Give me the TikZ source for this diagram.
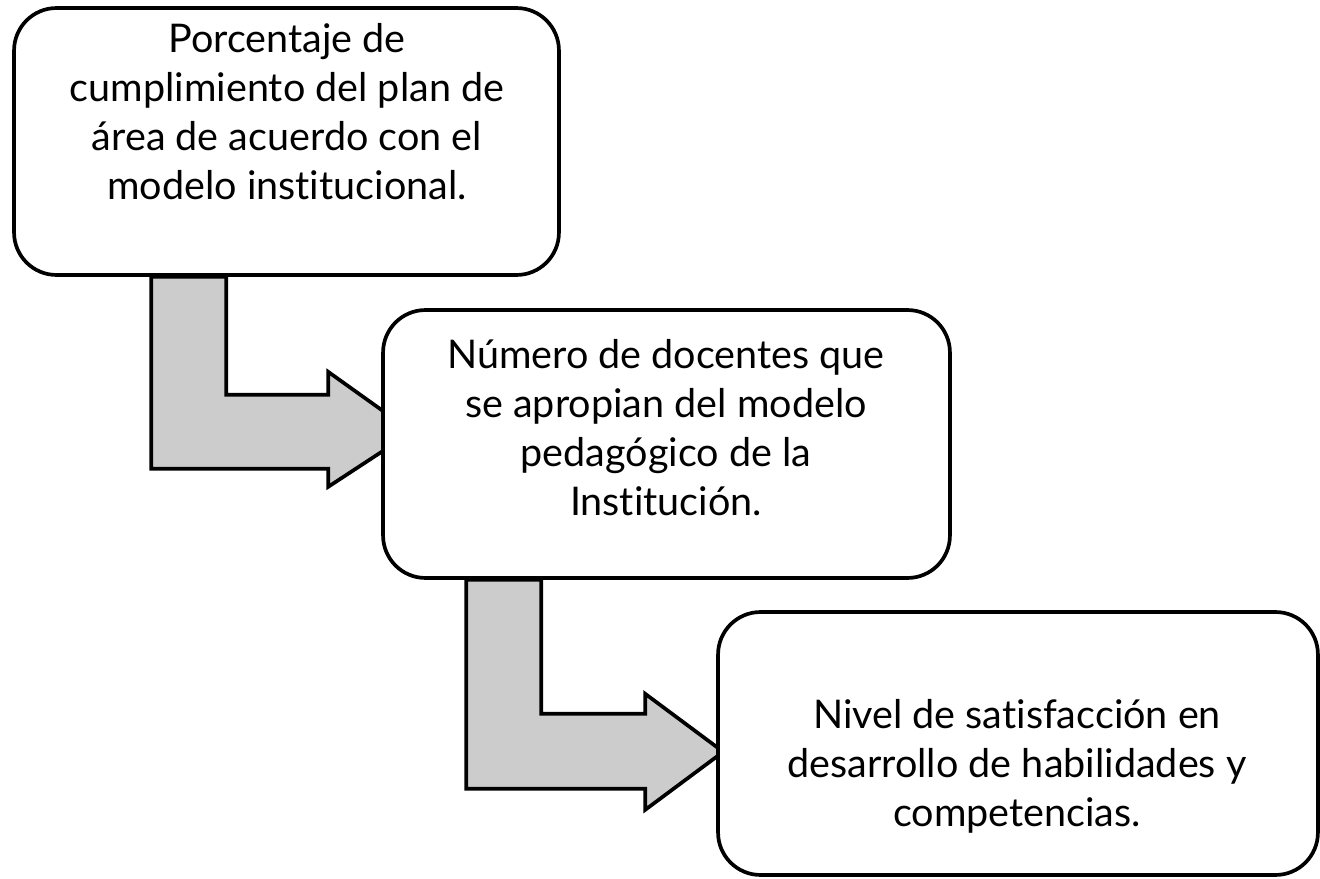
\documentclass[tikz,border=0pt]{standalone}
\usepackage{fontspec}
\setmainfont{Lato}[Ligatures={NoCommon}]
\usepackage{tikz}
\usetikzlibrary{positioning, calc, backgrounds}
\definecolor{arrowgray}{HTML}{CCCCCC}

\begin{document}
\begin{tikzpicture}[x=0.02cm, y=-0.02cm,
    box/.style={draw, fill=white, line width=2.1pt, rounded corners=0.85cm, inner sep=0pt},
    txt/.style={align=center, font=\fontsize{22.5}{27.9}\selectfont},
    bent/.style={draw, fill=arrowgray, line width=2.1pt, line join=miter}]
            \useasboundingbox (0,0) rectangle (1320,879);
            \node[box, minimum width=10.9cm, minimum height=5.34cm] (b1) at (286.5,141.5) {};
            \node[box, minimum width=11.34cm, minimum height=5.36cm] (b2) at (666.5,444) {};
            \node[box, minimum width=12cm, minimum height=5.26cm] (b3) at (1018,743.5) {};
            \node[txt] (t1) at (287,112) {Porcentaje de\\cumplimiento del plan de\\área de acuerdo con el\\modelo institucional.};
            \node[txt] (t2) at (666,428) {Número de docentes que\\se apropian del modelo\\pedagógico de la\\Institución.};
            \node[txt] (t3) at (1017,766) {Nivel de satisfacción en\\desarrollo de habilidades y\\competencias.};

            \begin{pgfonlayer}{background}
            % b1 -> b2
            \path[bent] ($(b1.south west)+(139,0)$) -- ++(75,0) -- ++(0,118) -- ++(102,0) -- ++(0,-23)
                -- ++(84,60) -- ++(-84,55) -- ++(0,-18) -- ++(-177,0) -- cycle;
            % b2 -> b3
            \path[bent] ($(b2.south west)+(85,0)$) -- ++(75,0) -- ++(0,134) -- ++(104,0) -- ++(0,-20)
                -- ++(78,58) -- ++(-78,58) -- ++(0,-21) -- ++(-179,0) -- cycle;
            \end{pgfonlayer}
        \end{tikzpicture}
\end{document}
